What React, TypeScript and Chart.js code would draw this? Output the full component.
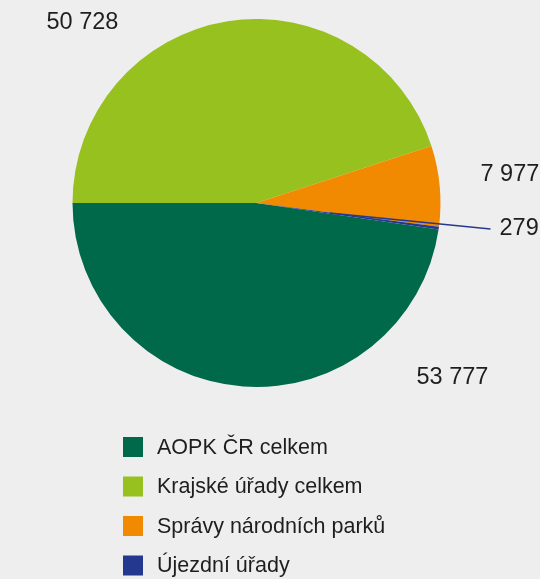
import React, { useEffect, useRef } from "react";
import { Chart, registerables } from "chart.js";

Chart.register(...registerables);

const categories = [
  "AOPK ČR celkem",
  "Krajské úřady celkem",
  "Správy národních parků",
  "Újezdní úřady",
];
const values = [53777, 50728, 7977, 279];
const valueLabels = ["53 777", "50 728", "7 977", "279"];
const colors = ["#00694a", "#97c11f", "#f18a00", "#24388f"];

// label layout: offsets of the text's left/middle from pie centre (px)
const labelOffsets = [
  [160, 175],
  [-210, -180],
  [224, -28],
  [243, 26],
];
// leader line end for small slices (offset from centre), null if none
const leaderEnds = [null, null, null, [234, 26]];

const BG = "#eeeeee";
const TEXT = "#1e1e1e";
const FONT = "Liberation Sans, Arial, sans-serif";

export default function App() {
  const ref = useRef<HTMLCanvasElement | null>(null);
  useEffect(() => {
    if (!ref.current) return;
    const labelPlugin = {
      id: "labelsAndLegend",
      afterDatasetsDraw(chart: any) {
        const ctx = chart.ctx;
        const meta = chart.getDatasetMeta(0);
        ctx.save();
        meta.data.forEach((arc: any, i: number) => {
          const cx = arc.x;
          const cy = arc.y;
          const le = leaderEnds[i];
          if (le) {
            const mid = (arc.startAngle + arc.endAngle) / 2;
            ctx.beginPath();
            ctx.strokeStyle = colors[i];
            ctx.lineWidth = 1.4;
            ctx.moveTo(cx + arc.outerRadius * 0.4 * Math.cos(mid), cy + arc.outerRadius * 0.4 * Math.sin(mid));
            ctx.lineTo(cx + le[0], cy + le[1]);
            ctx.stroke();
          }
          ctx.fillStyle = TEXT;
          ctx.font = `23.5px ${FONT}`;
          ctx.textAlign = "left";
          ctx.textBaseline = "middle";
          ctx.fillText(valueLabels[i], cx + labelOffsets[i][0], cy + labelOffsets[i][1]);
        });
        // legend
        ctx.font = `21.5px ${FONT}`;
        categories.forEach((c, i) => {
          const y = 447 + i * 39.5;
          ctx.fillStyle = colors[i];
          ctx.fillRect(123, y - 10, 20, 20);
          ctx.fillStyle = TEXT;
          ctx.textBaseline = "middle";
          ctx.fillText(c, 157, y + 1);
        });
        ctx.restore();
      },
    };
    const chart = new Chart(ref.current, {
      type: "pie",
      data: {
        labels: categories,
        datasets: [
          {
            data: values,
            backgroundColor: colors,
            borderWidth: 0,
          },
        ],
      },
      options: {
        animation: false,
        responsive: false,
        rotation: 98.3,
        layout: { padding: { left: 72, top: 19, right: 99, bottom: 192 } },
        plugins: { legend: { display: false }, tooltip: { enabled: false } },
      },
      plugins: [labelPlugin],
    });
    return () => chart.destroy();
  }, []);
  return (
    <div style={{ position: "absolute", left: 0, top: 0, width: 540, height: 579, background: BG }}>
      <canvas ref={ref} width={540} height={579} />
    </div>
  );
}
